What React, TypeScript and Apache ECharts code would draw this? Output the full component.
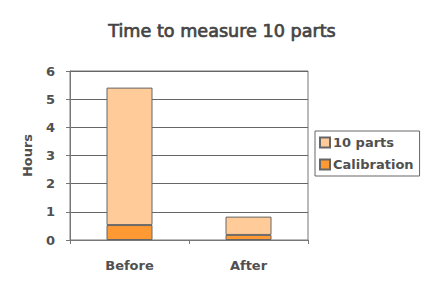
import React, { useEffect, useRef } from "react";
import * as echarts from "echarts";

const categories = ["Before", "After"];
const calibration = [0.53, 0.18];
const tenParts = [4.88, 0.65];
const yTicks = [0, 1, 2, 3, 4, 5, 6];

export default function App() {
  const ref = useRef<HTMLDivElement>(null);
  useEffect(() => {
    const chart = echarts.init(ref.current!, null, { renderer: "svg" });
    const font = "DejaVu Sans, sans-serif";
    const txt = "#505050";
    chart.setOption({
      animation: false,
      backgroundColor: "#ffffff",
      title: {
        text: "Time to measure 10 parts",
        left: 217,
        textAlign: "center",
        top: 17,
        textStyle: {
          fontFamily: font,
          fontSize: 17.6,
          fontWeight: "normal",
          color: "#444",
          textBorderColor: "#444",
          textBorderWidth: 0.7,
        },
      },
      legend: {
        orient: "vertical",
        left: 315,
        top: 131,
        padding: [5, 6, 5, 4],
        borderColor: "#666",
        borderWidth: 1,
        itemWidth: 10,
        itemHeight: 10,
        itemGap: 9,
        icon: "rect",
        textStyle: { fontFamily: font, fontSize: 13, fontWeight: "bold", color: txt, padding: [0, 0, 0, -2] },
        data: ["10 parts", "Calibration"],
      },
      grid: {
        left: 70,
        right: 124,
        top: 71,
        bottom: 42,
        show: true,
        borderColor: "#777",
        borderWidth: 1,
        backgroundColor: "transparent",
      },
      xAxis: {
        type: "category",
        data: categories,
        axisLine: { lineStyle: { color: "#777" } },
        axisTick: { show: true, length: 4, lineStyle: { color: "#777" } },
        axisLabel: { fontFamily: font, fontSize: 13, fontWeight: "bold", color: txt, margin: 19 },
      },
      yAxis: {
        type: "value",
        min: yTicks[0],
        max: yTicks[yTicks.length - 1],
        interval: 1,
        name: "Hours",
        nameLocation: "middle",
        nameGap: 36,
        nameTextStyle: { fontFamily: font, fontSize: 13, fontWeight: "bold", color: txt },
        axisLine: { show: true, lineStyle: { color: "#777" } },
        axisTick: { show: true, length: 4, lineStyle: { color: "#777" } },
        axisLabel: { fontFamily: font, fontSize: 13, fontWeight: "bold", color: txt, margin: 15 },
        splitLine: { lineStyle: { color: "#666", width: 1 } },
      },
      series: [
        {
          name: "Calibration",
          type: "bar",
          stack: "t",
          data: calibration,
          barWidth: 46,
          itemStyle: { color: "#FF9933", borderColor: "#666", borderWidth: 1 },
        },
        {
          name: "10 parts",
          type: "bar",
          stack: "t",
          data: tenParts,
          barWidth: 46,
          itemStyle: { color: "#FFCC99", borderColor: "#666", borderWidth: 1 },
        },
      ],
    });
    return () => chart.dispose();
  }, []);
  return <div ref={ref} style={{ width: 432, height: 282, position: "absolute", left: 0, top: 0 }} />;
}
